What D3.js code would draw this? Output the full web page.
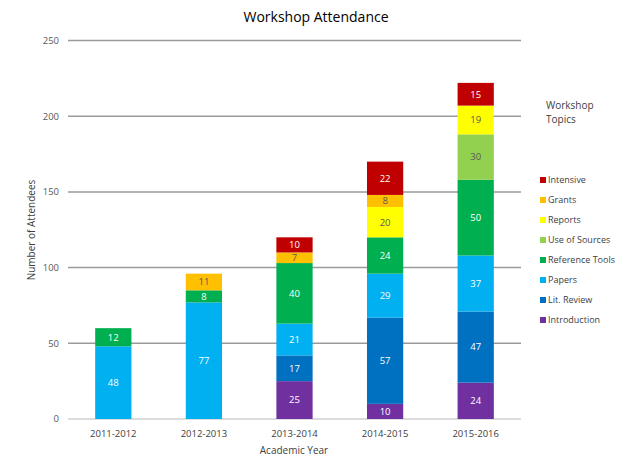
<!DOCTYPE html>
<html>
<head>
<meta charset="utf-8">
<script src="https://cdn.jsdelivr.net/npm/d3@7"></script>
<style>
  body { margin: 0; background: #fff; }
  text { font-family: "Open Sans", "Liberation Sans", sans-serif; }
</style>
</head>
<body>
<div id="chart"></div>
<script>
// Workshop attendance by academic year, stacked by topic
const years = ["2011-2012", "2012-2013", "2013-2014", "2014-2015", "2015-2016"];
const topics = ["Introduction", "Lit. Review", "Papers", "Reference Tools",
  "Use of Sources", "Reports", "Grants", "Intensive"];

const introduction = [0, 0, 25, 10, 24];
const litReview = [0, 0, 17, 57, 47];
const papers = [48, 77, 21, 29, 37];
const referenceTools = [12, 8, 40, 24, 50];
const useOfSources = [0, 0, 0, 0, 30];
const reports = [0, 0, 0, 20, 19];
const grants = [0, 11, 7, 8, 0];
const intensive = [0, 0, 10, 22, 15];

const yTicks = [0, 50, 100, 150, 200, 250];

const colors = ["#7030A0", "#0070C0", "#00B0F0", "#00B050", "#92D050", "#FFFF00", "#FFC000", "#C00000"];
const labelColors = ["#fff", "#fff", "#fff", "#fff", "#595959", "#595959", "#595959", "#fff"];

const width = 634, height = 457;
const margin = { top: 40.5, right: 113, bottom: 38, left: 68 };

const seriesValues = [introduction, litReview, papers, referenceTools, useOfSources, reports, grants, intensive];
const table = years.map((y, i) => {
  let row = { year: y };
  topics.forEach((t, j) => { row[t] = seriesValues[j][i]; });
  return row;
});

const svg = d3.select("#chart").append("svg")
  .attr("width", width)
  .attr("height", height);

const x = d3.scaleBand()
  .domain(years)
  .range([margin.left, width - margin.right])
  .paddingInner(0.6)
  .paddingOuter(0.3);

const y = d3.scaleLinear()
  .domain([0, 250])
  .range([height - margin.bottom, margin.top]);

// gridlines
svg.append("g").selectAll("line")
  .data(yTicks)
  .enter().append("line")
  .attr("x1", margin.left)
  .attr("x2", width - margin.right)
  .attr("y1", d => y(d))
  .attr("y2", d => y(d))
  .attr("stroke", d => d === 0 ? "#d0d0d0" : "#9a9a9a")
  .attr("stroke-width", 1.5);

// y tick labels
svg.append("g").selectAll("text")
  .data(yTicks)
  .enter().append("text")
  .attr("x", 59)
  .attr("y", d => y(d))
  .attr("dy", "0.35em")
  .attr("text-anchor", "end")
  .attr("font-size", 9.5)
  .attr("fill", "#595959")
  .text(d => d);

const stacked = d3.stack().keys(topics)(table);

const layers = svg.append("g").selectAll("g")
  .data(stacked)
  .enter().append("g")
  .attr("fill", (d, i) => colors[i]);

layers.selectAll("rect")
  .data(d => d.filter(s => s[1] - s[0] > 0))
  .enter().append("rect")
  .attr("x", d => x(d.data.year))
  .attr("width", x.bandwidth())
  .attr("y", d => y(d[1]))
  .attr("height", d => y(d[0]) - y(d[1]));

// value labels
stacked.forEach((layer, i) => {
  svg.append("g").selectAll("text")
    .data(layer.filter(s => s[1] - s[0] > 0))
    .enter().append("text")
    .attr("x", d => x(d.data.year) + x.bandwidth() / 2)
    .attr("y", d => y((d[0] + d[1]) / 2))
    .attr("dy", "0.35em")
    .attr("text-anchor", "middle")
    .attr("font-size", 9.5)
    .attr("fill", labelColors[i])
    .text(d => d[1] - d[0]);
});

// x axis labels
svg.append("g").selectAll("text")
  .data(years)
  .enter().append("text")
  .attr("x", d => x(d) + x.bandwidth() / 2)
  .attr("y", 437)
  .attr("text-anchor", "middle")
  .attr("font-size", 9.5)
  .attr("fill", "#404040")
  .text(d => d);

svg.append("text")
  .attr("x", 294)
  .attr("y", 454)
  .attr("text-anchor", "middle")
  .attr("font-size", 10)
  .attr("fill", "#404040")
  .text("Academic Year");

svg.append("text")
  .attr("transform", "translate(35,230) rotate(-90)")
  .attr("text-anchor", "middle")
  .attr("font-size", 10)
  .attr("fill", "#404040")
  .text("Number of Attendees");

svg.append("text")
  .attr("x", 316)
  .attr("y", 22)
  .attr("text-anchor", "middle")
  .attr("font-size", 14)
  .attr("fill", "#000")
  .text("Workshop Attendance");

// legend
const legend = svg.append("g");
legend.append("text")
  .attr("x", 546)
  .attr("y", 109)
  .attr("font-size", 10)
  .attr("fill", "#404040")
  .text("Workshop");
legend.append("text")
  .attr("x", 546)
  .attr("y", 123)
  .attr("font-size", 10)
  .attr("fill", "#404040")
  .text("Topics");

const legendTopics = topics.slice().reverse();
const items = legend.selectAll(".item")
  .data(legendTopics)
  .enter().append("g")
  .attr("class", "item")
  .attr("transform", (d, i) => "translate(540," + (180 + i * 20) + ")");

items.append("rect")
  .attr("x", 0)
  .attr("y", -3)
  .attr("width", 6)
  .attr("height", 6)
  .attr("fill", d => colors[topics.indexOf(d)]);

items.append("text")
  .attr("x", 8)
  .attr("dy", "0.35em")
  .attr("font-size", 9)
  .attr("fill", "#404040")
  .text(d => d);
</script>
</body>
</html>
